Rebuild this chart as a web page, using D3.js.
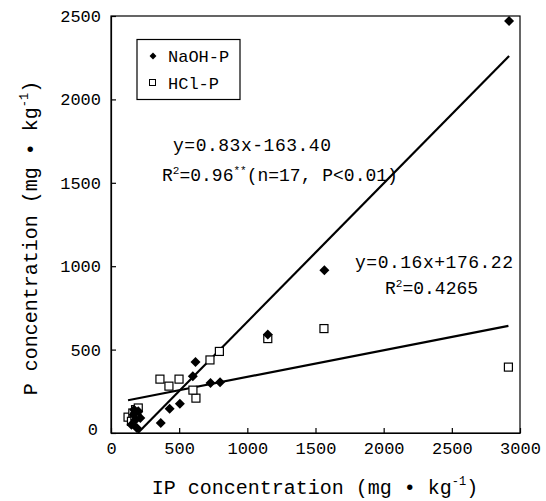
<!DOCTYPE html>
<html lang="en">
<head>
  <meta charset="utf-8">
  <title>IP vs P concentration</title>
  <script src="https://cdn.jsdelivr.net/npm/d3@7"></script>
  <style>
    body { margin: 0; background: #fff; }
    text { font-family: "Liberation Mono", monospace; fill: #000; }
  </style>
</head>
<body>
<script>
// data (IP, P in mg/kg)
var naohX = [2920, 1565, 1150, 620, 600, 730, 800, 505, 430, 365, 150, 165, 180, 200, 215, 190, 170];
var naohY = [2470, 975, 590, 425, 340, 300, 305, 175, 145, 60, 50, 110, 80, 130, 90, 30, 140];
var hclX = [2915, 1562, 1150, 795, 726, 623, 601, 499, 425, 359, 125, 160, 180, 200, 150, 190, 175];
var hclY = [395, 626, 566, 489, 438, 209, 257, 323, 281, 323, 95, 120, 140, 150, 70, 110, 100];
var xTicks = [0, 500, 1000, 1500, 2000, 2500, 3000];
var yTicks = [0, 500, 1000, 1500, 2000, 2500];
// trend lines: slope, intercept
var naohFit = [0.83, -163.40];
var hclFit = [0.16, 176.22];

var w = 546, h = 501;
var padL = 111, padR = 520, padT = 16, padB = 433;

var svg = d3.select("body").append("svg")
  .attr("width", w)
  .attr("height", h);

var x = d3.scaleLinear().domain([0, 3000]).range([padL, padR]);
var y = d3.scaleLinear().domain([0, 2500]).range([padB, padT]);

// frame
svg.append("rect")
  .attr("x", padL).attr("y", padT)
  .attr("width", padR - padL).attr("height", padB - padT)
  .attr("fill", "none").attr("stroke", "#000").attr("stroke-width", 1.2);

var xAxis = svg.append("g")
  .attr("transform", "translate(0," + padB + ")")
  .call(d3.axisBottom(x).tickValues(xTicks).tickFormat(d3.format("d")).tickSizeInner(-5).tickSizeOuter(0).tickPadding(9));
var yAxis = svg.append("g")
  .attr("transform", "translate(" + padL + ",0)")
  .call(d3.axisLeft(y).tickValues(yTicks).tickFormat(d3.format("d")).tickSizeInner(-5).tickSizeOuter(0).tickPadding(10));

[xAxis, yAxis].forEach(function(g){
  g.select(".domain").attr("stroke", "#000").attr("stroke-width", 1.2);
  g.selectAll(".tick line").attr("stroke", "#000").attr("stroke-width", 1.2);
  g.selectAll(".tick text")
    .attr("font-family", "Liberation Mono, monospace")
    .attr("font-size", 17)
    .attr("fill", "#000");
});
// the y zero label sits a little lower in the original
yAxis.selectAll(".tick text").filter(function(d){ return d === 0; }).attr("dy", "0.1em").attr("x", -13);

// trend lines, from lowest to highest x, clipped at y = 0
function fitLine(fit, xs){
  var x0 = d3.min(xs), x1 = d3.max(xs);
  if (fit[0] * x0 + fit[1] < 0) x0 = -fit[1] / fit[0];
  return [[x0, fit[0] * x0 + fit[1]], [x1, fit[0] * x1 + fit[1]]];
}
var line = d3.line().x(function(d){ return x(d[0]); }).y(function(d){ return y(d[1]); });
[[naohFit, naohX], [hclFit, hclX]].forEach(function(p){
  svg.append("path")
    .attr("d", line(fitLine(p[0], p[1])))
    .attr("fill", "none")
    .attr("stroke", "#000")
    .attr("stroke-width", 2.2);
});

// HCl-P open squares
var sq = 8;
svg.selectAll("rect.hcl")
  .data(d3.range(hclX.length))
  .enter()
  .append("rect")
  .attr("class", "hcl")
  .attr("x", function(i){ return x(hclX[i]) - sq / 2; })
  .attr("y", function(i){ return y(hclY[i]) - sq / 2; })
  .attr("width", sq).attr("height", sq)
  .attr("fill", "#fff").attr("stroke", "#000").attr("stroke-width", 1.2);

// NaOH-P filled diamonds
var diamond = d3.symbol().type(d3.symbolSquare).size(50);
svg.selectAll("path.naoh")
  .data(d3.range(naohX.length))
  .enter()
  .append("path")
  .attr("class", "naoh")
  .attr("d", diamond)
  .attr("transform", function(i){ return "translate(" + x(naohX[i]) + "," + y(naohY[i]) + ") rotate(45)"; })
  .attr("fill", "#000");

// legend
svg.append("rect")
  .attr("x", 137).attr("y", 39.5).attr("width", 103).attr("height", 60)
  .attr("fill", "#fff").attr("stroke", "#000").attr("stroke-width", 1.2);
svg.append("path")
  .attr("d", d3.symbol().type(d3.symbolSquare).size(24))
  .attr("transform", "translate(153,56) rotate(45)")
  .attr("fill", "#000");
svg.append("rect")
  .attr("x", 149.5).attr("y", 79.5).attr("width", 6).attr("height", 6)
  .attr("fill", "#fff").attr("stroke", "#000").attr("stroke-width", 1);
svg.append("text").attr("x", 168).attr("y", 62).attr("font-size", 17).text("NaOH-P");
svg.append("text").attr("x", 168).attr("y", 89).attr("font-size", 17).text("HCl-P");

// equations
svg.append("text").attr("x", 173).attr("y", 151).attr("font-size", 18)
  .attr("textLength", 158).text("y=0.83x-163.40");
var r1 = svg.append("text").attr("x", 162).attr("y", 181).attr("font-size", 18);
r1.append("tspan").text("R");
r1.append("tspan").attr("font-size", 11).attr("dy", -7).text("2");
r1.append("tspan").attr("dy", 7).text("=0.96");
r1.append("tspan").attr("font-size", 11).attr("dy", -7).text("**");
r1.append("tspan").attr("dy", 7).text("(n=17, P<0.01)");

svg.append("text").attr("x", 355).attr("y", 268).attr("font-size", 18)
  .attr("textLength", 158).text("y=0.16x+176.22");
var r2 = svg.append("text").attr("x", 385).attr("y", 294).attr("font-size", 18);
r2.append("tspan").text("R");
r2.append("tspan").attr("font-size", 11).attr("dy", -7).text("2");
r2.append("tspan").attr("dy", 7).text("=0.4265");

// axis titles
var xt = svg.append("text").attr("x", 315).attr("y", 494).attr("font-size", 20).attr("text-anchor", "middle");
xt.append("tspan").text("IP concentration (mg \u2022 kg");
xt.append("tspan").attr("font-size", 12).attr("dy", -9).text("-1");
xt.append("tspan").attr("dy", 9).text(")");

var yt = svg.append("text").attr("transform", "translate(37,238) rotate(-90)").attr("font-size", 20).attr("text-anchor", "middle");
yt.append("tspan").text("P concentration (mg \u2022 kg");
yt.append("tspan").attr("font-size", 12).attr("dy", -9).text("-1");
yt.append("tspan").attr("dy", 9).text(")");
</script>
</body>
</html>
